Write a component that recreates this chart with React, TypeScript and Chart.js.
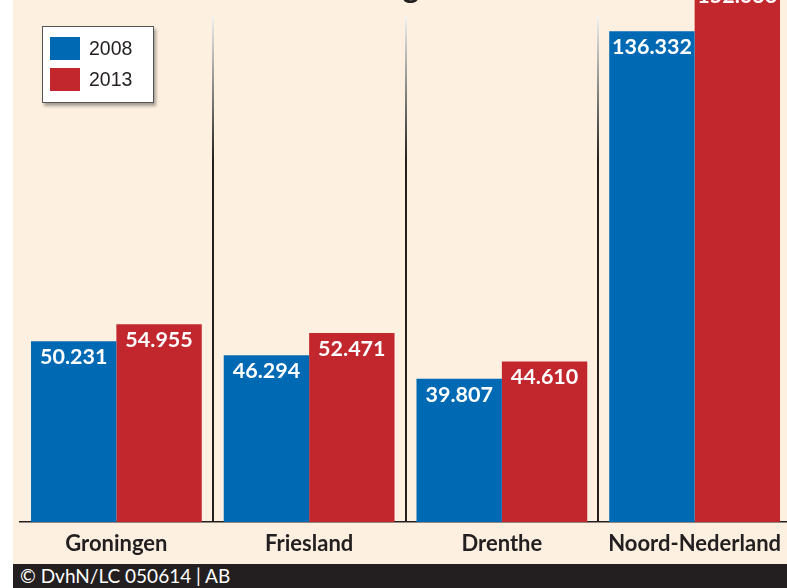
import React, { useEffect, useRef } from "react";
import { Chart, registerables } from "chart.js";

Chart.register(...registerables);

const categories = ["Groningen", "Friesland", "Drenthe", "Noord-Nederland"];
const seriesLabels = ["2008", "2013"];
const values2008 = [50231, 46294, 39807, 136332];
const values2013 = [54955, 52471, 44610, 152036];
const seriesColors = ["#0069b4", "#c1272d"];
const footerText = "© DvhN/LC 050614 | AB";
const titleFragment = "g";
const yMax = 145000;

const fmt = (v: number) => String(v).replace(/\B(?=(\d{3})+(?!\d))/g, ".");

export default function App() {
  const ref = useRef<HTMLCanvasElement>(null);

  useEffect(() => {
    if (!ref.current) return;
    const labelPlugin = {
      id: "valueLabels",
      afterDatasetsDraw(chart: any) {
        const { ctx } = chart;
        ctx.save();
        ctx.fillStyle = "#ffffff";
        ctx.font = "bold 21.5px Lato";
        ctx.textAlign = "center";
        ctx.textBaseline = "middle";
        chart.data.datasets.forEach((ds: any, di: number) => {
          chart.getDatasetMeta(di).data.forEach((el: any, i: number) => {
            const y = Math.max(el.y + 16, chart.chartArea.top - 4);
            ctx.fillText(fmt(ds.data[i]), el.x, y);
          });
        });
        ctx.fillStyle = "#231f20";
        ctx.font = "bold 32px Lato";
        ctx.textBaseline = "alphabetic";
        ctx.fillText(titleFragment, 411, -2);
        ctx.restore();
      },
    };

    const chart = new Chart(ref.current, {
      type: "bar",
      data: {
        labels: categories,
        datasets: [
          {
            label: seriesLabels[0],
            data: values2008,
            backgroundColor: seriesColors[0],
            borderWidth: 0,
            categoryPercentage: 0.886,
            barPercentage: 1,
          },
          {
            label: seriesLabels[1],
            data: values2013,
            backgroundColor: seriesColors[1],
            borderWidth: 0,
            categoryPercentage: 0.886,
            barPercentage: 1,
          },
        ],
      },
      options: {
        responsive: false,
        animation: false,
        devicePixelRatio: 1,
        layout: { padding: { left: 20, right: 9, top: 0, bottom: 0 } },
        plugins: {
          legend: { display: false },
          title: { display: false },
          tooltip: { enabled: false },
        },
        scales: {
          x: {
            offset: true,
            afterFit: (scale: any) => {
              scale.height = 42;
            },
            grid: {
              offset: true,
              drawTicks: false,
              lineWidth: 2,
              color: (c: any) => {
                if (c.index === undefined || c.index === 0) return "rgba(0,0,0,0)";
                const g = c.chart.ctx.createLinearGradient(0, 0, 0, 160);
                g.addColorStop(0, "rgba(253,240,224,0)");
                g.addColorStop(0.09, "rgba(253,240,224,0)");
                g.addColorStop(0.1, "#f2f2f2");
                g.addColorStop(1, "#231f20");
                return g;
              },
            },
            border: { display: true, color: "#231f20", width: 1.5 },
            ticks: {
              padding: 9,
              color: "#231f20",
              font: { family: "Lato", weight: "bold", size: 22 },
              maxRotation: 0,
              autoSkip: false,
            },
          },
          y: {
            display: false,
            min: 0,
            max: yMax,
          },
        },
      },
      plugins: [labelPlugin],
    });
    return () => chart.destroy();
  }, []);

  return (
    <div
      style={{
        position: "fixed",
        left: 0,
        top: 0,
        width: 787,
        height: 588,
        overflow: "hidden",
        background: "#ffffff",
      }}
    >
      <div
        style={{
          position: "absolute",
          left: 13,
          top: 0,
          width: 774,
          height: 564,
          background: "#fdf0e0",
        }}
      />
      <canvas
        ref={ref}
        width={800}
        height={564}
        style={{ position: "absolute", left: 0, top: 0, width: 800, height: 564 }}
      />
      <div
        style={{
          position: "absolute",
          left: 42,
          top: 26,
          width: 112,
          height: 77,
          boxSizing: "border-box",
          background: "#ffffff",
          border: "1px solid #555",
          boxShadow: "2px 3px 3px rgba(0,0,0,0.35)",
        }}
      >
        {seriesLabels.map((l, i) => (
          <div
            key={l}
            style={{
              position: "absolute",
              left: 7,
              top: 10 + i * 31,
              height: 23,
              display: "flex",
              alignItems: "center",
            }}
          >
            <span
              style={{
                display: "inline-block",
                width: 30,
                height: 23,
                background: seriesColors[i],
              }}
            />
            <span
              style={{
                marginLeft: 9,
                font: '19.5px "Liberation Sans", Arial, sans-serif',
                color: "#231f20",
              }}
            >
              {l}
            </span>
          </div>
        ))}
      </div>
      <div
        style={{
          position: "absolute",
          left: 13,
          top: 564,
          width: 774,
          height: 24,
          background: "#231f20",
          color: "#ffffff",
          font: "19px Lato, sans-serif",
          lineHeight: "24px",
          paddingLeft: 7,
          boxSizing: "border-box",
          whiteSpace: "nowrap",
        }}
      >
        {footerText}
      </div>
    </div>
  );
}
